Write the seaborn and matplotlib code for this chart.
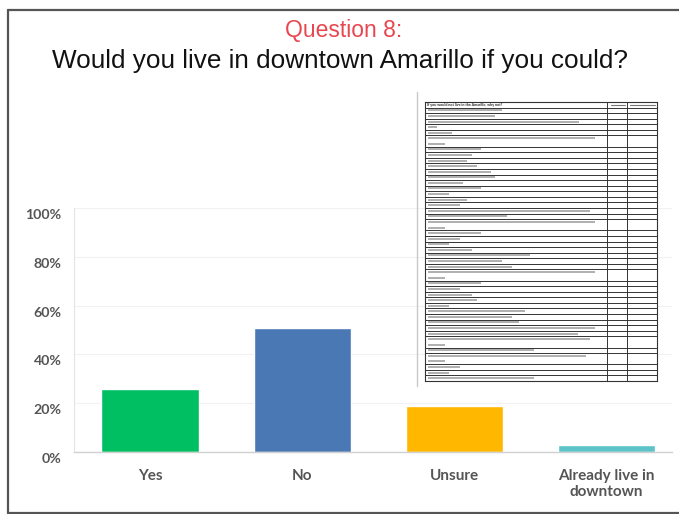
import matplotlib
matplotlib.use("Agg")
import matplotlib.pyplot as plt
import matplotlib.transforms as mtransforms
from matplotlib.lines import Line2D
import seaborn as sns
import pandas as pd
import numpy as np

# Données
categories = ["Yes", "No", "Unsure", "Already live in\ndowntown"]
shares = [0.26, 0.51, 0.19, 0.03]
bar_colors = ["#00bf63", "#4a78b5", "#ffb700", "#5cc3c9"]
y_ticks = [0, 0.2, 0.4, 0.6, 0.8, 1.0]
y_tick_labels = ["0%", "20%", "40%", "60%", "80%", "100%"]

# Tableau (image insérée) : nombre de lignes par rangée et longueur du texte
table_header = "If you would not live in the Amarillo, why not?"
row_lines = [1, 1, 1, 1, 1, 2, 1, 1, 1, 1, 1, 1, 1, 1, 1, 1, 1, 1, 1, 2,
             1, 1, 1, 1, 1, 1, 1, 2, 1, 1, 1, 1, 1, 1, 1, 1, 1, 1, 2, 1,
             2, 1, 1, 1]
row_text = [0.42, 0.38, 0.86, 0.05, 0.14, 0.95, 0.3, 0.25, 0.22, 0.28,
            0.36, 0.38, 0.2, 0.3, 0.12, 0.22, 0.18, 0.92, 0.45, 0.95,
            0.3, 0.18, 0.12, 0.25, 0.58, 0.42, 0.48, 0.95, 0.3, 0.18,
            0.25, 0.28, 0.12, 0.55, 0.48, 0.52, 0.95, 0.85, 0.92, 0.6,
            0.9, 0.18, 0.12, 0.6]

df = pd.DataFrame({"Categorie": categories, "Part": shares})

sns.set_theme(style="white")
plt.rcParams["font.family"] = ["Lato", "DejaVu Sans"]

fig = plt.figure(figsize=(6.79, 5.14), dpi=100)
W, H = 679, 514

# Cadre de la diapositive (pas de bord à droite)
for xs, ys in [((8, 8), (10, 513)), ((8, 679), (10, 10)), ((8, 679), (512.5, 512.5))]:
    fig.add_artist(Line2D([x / W for x in xs], [1 - y / H for y in ys],
                          color="#555555", lw=1.6))

# Titres
fig.text(344 / W, 1 - 31 / H, "Question 8:", ha="center", va="center",
         fontsize=16.5, color="#e8474f", family=["Liberation Sans"])
fig.text(340 / W, 1 - 61 / H, "Would you live in downtown Amarillo if you could?",
         ha="center", va="center", fontsize=18.8, color="#111111",
         family=["Liberation Sans"])

# Graphique à barres
ax = fig.add_axes([74 / W, 62 / H, 598 / W, 244 / H])
sns.barplot(data=df, x="Categorie", y="Part", hue="Categorie",
            palette=bar_colors, width=0.64, legend=False, ax=ax, saturation=1)
ax.set_ylim(0, 1)
ax.set_xlim(-0.5, 3.43)
ax.set_yticks(y_ticks)
ax.set_yticklabels(y_tick_labels)
ax.set_xlabel("")
ax.set_ylabel("")
ax.grid(axis="y", color="#f1f1f1", lw=0.8)
ax.set_axisbelow(True)
for s in ["top", "right"]:
    ax.spines[s].set_visible(False)
ax.spines["left"].set_color("#e4e4e4")
ax.spines["left"].set_linewidth(0.8)
ax.spines["bottom"].set_color("#d0d0d0")
ax.spines["bottom"].set_linewidth(1.0)
ax.tick_params(axis="y", length=0, pad=9, labelsize=10.2, labelcolor="#555555")
ax.tick_params(axis="x", length=0, pad=12, labelsize=11, labelcolor="#555555")
for lab in ax.get_yticklabels():
    lab.set_fontweight("bold")
    lab.set_transform(lab.get_transform() +
                      mtransforms.ScaledTranslation(0, -6 / 100, fig.dpi_scale_trans))
for lab in ax.get_xticklabels():
    lab.set_fontweight("bold")
    lab.set_verticalalignment("top")
    lab.set_linespacing(1.25)

# Image du tableau (à droite)
fig.add_artist(Line2D([417 / W, 417 / W], [1 - 92 / H, 1 - 386 / H],
                      color="#c8c8c8", lw=1.0))
tx = fig.add_axes([425 / W, 1 - 381 / H, 232 / W, 279 / H])
tx.set_facecolor("white")
n_lines = sum(row_lines) + 1
tx.set_xlim(0, 1)
tx.set_ylim(n_lines, 0)
tx.set_xticks([])
tx.set_yticks([])
for s in tx.spines.values():
    s.set_color("#333333")
    s.set_linewidth(0.8)
col_edges = [0.785, 0.871]
for c in col_edges:
    tx.axvline(c, color="#333333", lw=0.7)
tx.text(0.01, 0.5, table_header, fontsize=2.6, va="center", ha="left",
        fontweight="bold", color="#222222")
tx.plot([0.80, 0.86], [0.5, 0.5], color="#777777", lw=0.8)
tx.plot([0.885, 0.99], [0.5, 0.5], color="#777777", lw=0.8)
y = 1
tx.axhline(y, color="#333333", lw=0.7)
for nl, ln in zip(row_lines, row_text):
    for k in range(nl):
        frac = ln if (nl == 1 or k == 0) else 0.1
        tx.plot([0.012, 0.012 + frac * 0.76], [y + k + 0.5, y + k + 0.5],
                color="#9a9a9a", lw=1.1, solid_capstyle="butt")
    y += nl
    tx.axhline(y, color="#333333", lw=0.7)

fig.savefig("out.png", dpi=100)
